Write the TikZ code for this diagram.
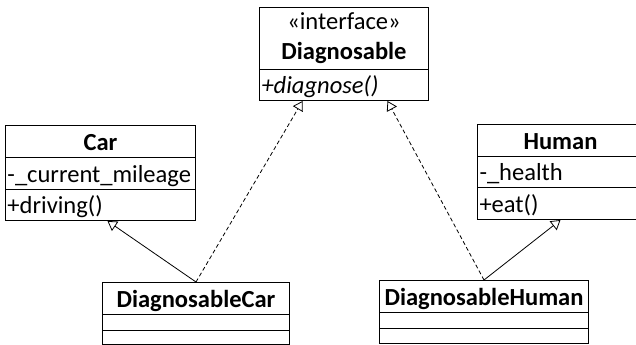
\documentclass[tikz,border=0pt]{standalone}
\usepackage{fontspec}
\setmainfont{Carlito}
\usetikzlibrary{arrows.meta}
\tikzset{
  boxbase/.style 2 args={draw=black, line width=0.75pt, anchor=north west, inner xsep=1.5pt, inner ysep=0pt,
    minimum width=#1*0.75pt, minimum height=#2*0.75pt},
  row/.style n args={3}{boxbase={#1}{#2}, text width=#1*0.75pt-3pt, align=#3, text height=16pt, text depth=2.5pt},
  emptyrow/.style 2 args={boxbase={#1}{#2}, inner sep=0pt},
  inherit/.style={line width=0.6pt, -{Triangle[open, length=7pt, width=8.5pt]}},
  realize/.style={inherit, dash pattern=on 3pt off 2pt},
}
\begin{document}
\begin{tikzpicture}[x=0.75pt, y=-0.75pt, font=\fontsize{18.4pt}{22.5pt}\selectfont]
\useasboundingbox (0,0) rectangle (636,345);
\clip (0,0) rectangle (636,345);
% interface
\node[boxbase={169}{62}, text width=169*0.75pt-3pt, align=center] (ifh) at (259,7) {«interface»\\\textbf{Diagnosable}};
\node[row={169}{31}{left}] (ifm) at (259,69) {\itshape +diagnose()};
% Car
\node[row={190}{32}{center}] (car1) at (5,125) {\textbf{Car}};
\node[row={190}{32}{left}] (car2) at (5,157) {-\_current\_mileage};
\node[row={190}{31}{left}] (car3) at (5,189) {+driving()};
% Human
\node[row={166}{32}{center}] (hum1) at (477,124) {\textbf{Human}};
\node[row={166}{31}{left}] (hum2) at (477,156) {-\_health};
\node[row={166}{32}{left}] (hum3) at (477,187) {+eat()};
% DiagnosableCar
\node[row={187}{32}{center}] (dc1) at (102,282) {\textbf{DiagnosableCar}};
\node[emptyrow={187}{16}] (dc2) at (102,314) {};
\node[emptyrow={187}{14}] (dc3) at (102,330) {};
% DiagnosableHuman
\node[row={209}{32}{center}] (dh1) at (379,280) {\textbf{DiagnosableHuman}};
\node[emptyrow={209}{16}] (dh2) at (379,312) {};
\node[emptyrow={209}{15}] (dh3) at (379,328) {};
% connectors
\draw[inherit] (dc1.north) -- ([xshift=5.25pt]car3.south);
\draw[realize] (dc1.north) -- ([xshift=-31.1pt]ifm.south);
\draw[realize] (dh1.north) -- ([xshift=32.6pt]ifm.south);
\draw[inherit] (dh1.north) -- (hum3.south);
\end{tikzpicture}
\end{document}
